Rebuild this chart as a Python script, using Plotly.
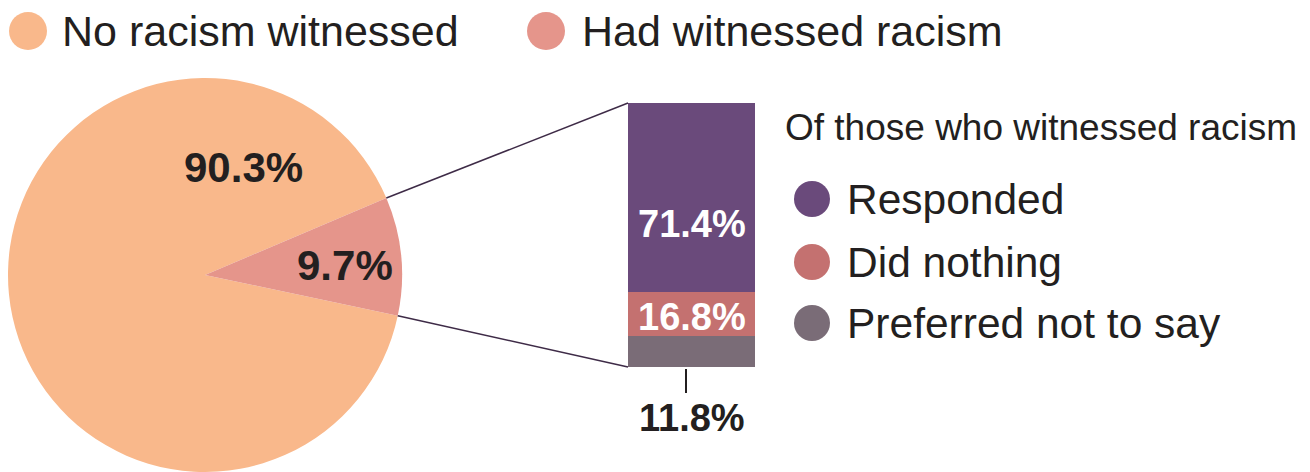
import math
import plotly.graph_objects as go

# ---- data ----
pie_labels = ["No racism witnessed", "Had witnessed racism"]
pie_values = [90.3, 9.7]
pie_colors = ["#F9B88B", "#E5958B"]

bar_labels = ["Preferred not to say", "Did nothing", "Responded"]
bar_values = [11.8, 16.8, 71.4]
bar_colors = ["#7A6C77", "#C47170", "#6A4A7B"]
bar_category = ["Witnessed"]
legend_title = "Of those who witnessed racism"

W, H = 1310, 472
FONT = "Liberation Sans, Arial, sans-serif"
DARK = "#231F20"


def px(x):
    return x / W


def py(y):
    return 1 - y / H


# pie geometry (pixels)
cx, cy, r = 205, 275, 197
top_edge_math = 23.0  # upper edge of the small slice, degrees counter-clockwise from east
had_span = 360 * pie_values[1] / sum(pie_values)
rotation = (90 - top_edge_math) + had_span

fig = go.Figure()
fig.add_trace(go.Pie(
    labels=pie_labels, values=pie_values, sort=False,
    direction="counterclockwise", rotation=rotation,
    marker=dict(colors=pie_colors, line=dict(width=0)),
    textinfo="none", hoverinfo="label+percent", showlegend=False,
    domain=dict(x=[px(cx - r), px(cx + r)], y=[py(cy + r), py(cy - r)]),
))

for lab, val, col in zip(bar_labels, bar_values, bar_colors):
    fig.add_trace(go.Bar(
        x=bar_category, y=[val], name=lab, marker=dict(color=col, line=dict(width=0)),
        showlegend=False, hovertemplate=lab + ": %{y}%<extra></extra>",
    ))

bar_left, bar_right, bar_top, bar_bottom = 628, 755, 103, 367
fig.update_layout(
    width=W, height=H, margin=dict(l=0, r=0, t=0, b=0),
    paper_bgcolor="white", plot_bgcolor="white",
    barmode="stack", bargap=0,
    xaxis=dict(domain=[px(bar_left), px(bar_right)], range=[-0.5, 0.5], visible=False),
    yaxis=dict(domain=[py(bar_bottom), py(bar_top)], range=[0, sum(bar_values)], visible=False),
    font=dict(family=FONT, color=DARK),
)

shapes = []
annotations = []


def text(x, y, t, size, color=DARK, xanchor="center"):
    annotations.append(dict(x=px(x), y=py(y), xref="paper", yref="paper",
                            xanchor=xanchor, yanchor="middle", text=t, showarrow=False,
                            font=dict(size=size, color=color, family=FONT)))


# connector lines from slice edges to bar corners
a_top = math.radians(top_edge_math)
a_bot = math.radians(top_edge_math - had_span)
for ang, by in [(a_top, bar_top), (a_bot, bar_bottom)]:
    x0 = cx + r * math.cos(ang)
    y0 = cy - r * math.sin(ang)
    shapes.append(dict(type="line", xref="paper", yref="paper",
                       x0=px(x0), y0=py(y0), x1=px(bar_left), y1=py(by),
                       line=dict(color="#3E2B47", width=1.5)))

# pie labels
text(243, 168, f"<b>{pie_values[0]}%</b>", 42)
text(345, 265, f"<b>{pie_values[1]}%</b>", 42)

# bar labels
text(692, 224, f"<b>{bar_values[2]}%</b>", 38, "white")
text(692, 317, f"<b>{bar_values[1]}%</b>", 38, "white")
text(692, 418, f"<b>{bar_values[0]}%</b>", 38)
shapes.append(dict(type="line", xref="paper", yref="paper",
                   x0=px(686), x1=px(686), y0=py(369), y1=py(393),
                   line=dict(color=DARK, width=2)))


def legend_item(cxp, cyp, d, color, label, tx, size):
    shapes.append(dict(type="circle", xref="paper", yref="paper",
                       x0=px(cxp - d / 2), x1=px(cxp + d / 2),
                       y0=py(cyp + d / 2), y1=py(cyp - d / 2),
                       fillcolor=color, line=dict(width=0)))
    text(tx, cyp, label, size, xanchor="left")


# top legend
legend_item(28, 31, 38, pie_colors[0], pie_labels[0], 60, 43)
legend_item(546, 31, 38, pie_colors[1], pie_labels[1], 580, 43)

# right legend
text(783, 127, legend_title, 37, xanchor="left")
right_rows = [(199, 2), (262, 1), (323, 0)]
for ycen, i in right_rows:
    legend_item(812, ycen, 36, bar_colors[i], bar_labels[i], 845, 42.5)

fig.update_layout(shapes=shapes, annotations=annotations)
fig.write_html("out.html", config={"displayModeBar": False},
               post_script="document.body.style.margin='0';document.body.style.padding='0';")
